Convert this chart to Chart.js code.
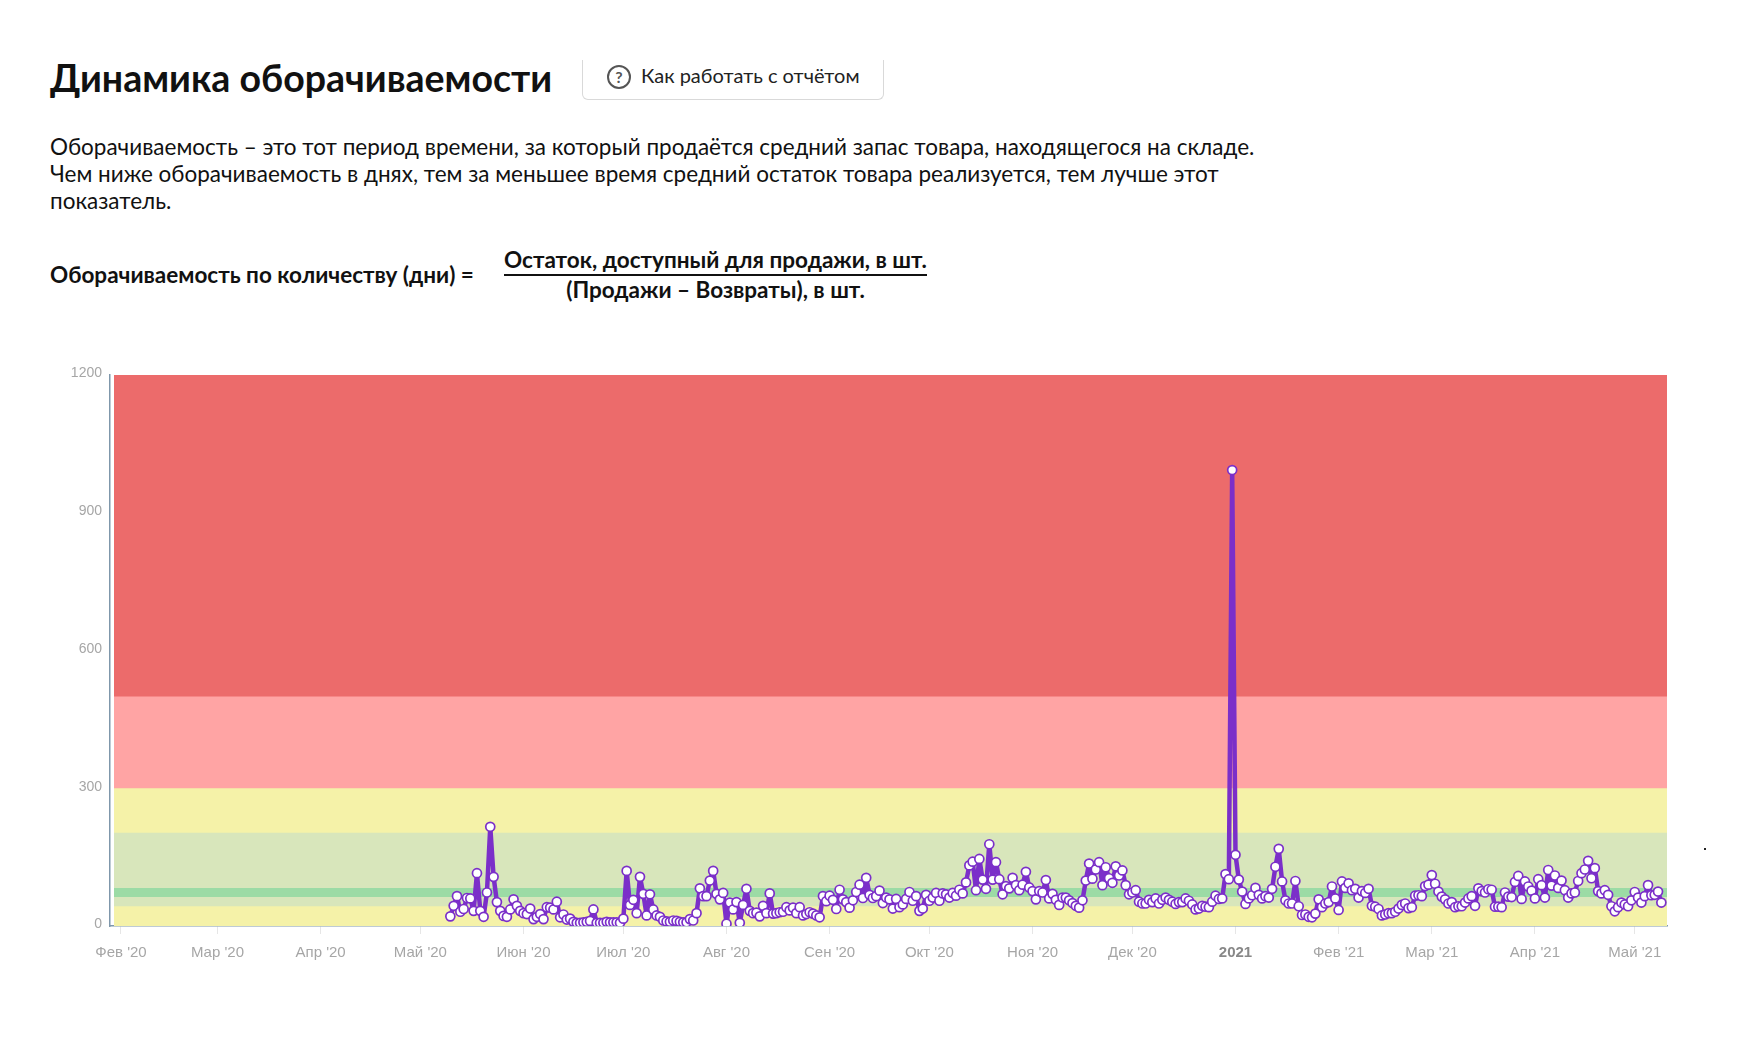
<!DOCTYPE html>
<html lang="ru">
<head>
<meta charset="utf-8">
<title>Динамика оборачиваемости</title>
<script src="https://cdn.jsdelivr.net/npm/chart.js@4"></script>
<style>
    html, body { margin: 0; padding: 0; background: #fff; }
    body { width: 1750px; height: 1050px; position: relative; overflow: hidden; font-family: Lato, "Open Sans", sans-serif; color: #111; }
    .abs { position: absolute; white-space: nowrap; }
    h1 { margin: 0; left: 50px; top: 53px; font-size: 37.5px; line-height: 50px; font-weight: 700; }
    .btn { left: 582px; top: 60px; width: 302px; height: 40px; box-sizing: border-box; border: 1px solid #d9d9d9; border-top: 0; border-radius: 0 0 6px 6px; font-size: 20px; line-height: 30px; color: #222; }
    .btn span { position: absolute; left: 58px; top: 0; }
    .btn i { position: absolute; left: 24px; top: 5px; width: 20px; height: 20px; border: 2.5px solid #555; border-radius: 50%; font-style: normal; font-weight: 700; font-size: 16px; line-height: 20px; text-align: center; color: #555; }
    .text { left: 50px; top: 133px; font-size: 22.5px; line-height: 27px; }
    .formula { font-size: 22.5px; line-height: 28px; font-weight: 700; }
    .frac { left: 504px; width: 423px; text-align: center; }
    canvas { position: absolute; left: 0; top: 340px; }
</style>
</head>
<body>
<h1 class="abs">Динамика оборачиваемости</h1>
<div class="abs btn"><i>?</i><span>Как работать с отчётом</span></div>
<div class="abs text">Оборачиваемость – это тот период времени, за который продаётся средний запас товара, находящегося на складе.<br>Чем ниже оборачиваемость в днях, тем за меньшее время средний остаток товара реализуется, тем лучше этот<br>показатель.</div>
<div class="abs formula" style="left:50px;top:261px">Оборачиваемость по количеству (дни) =</div>
<div class="abs formula frac" style="top:246px">Остаток, доступный для продажи, в шт.</div>
<div class="abs" style="left:504px;top:274px;width:423px;height:2px;background:#111"></div>
<div class="abs formula frac" style="top:276px">(Продажи – Возвраты), в шт.</div>
<div class="abs" style="left:1704px;top:848px;width:2px;height:2px;background:#222"></div>
<canvas id="turnoverChart" width="1750" height="660"></canvas>
<script>
// month ticks: days counted from 1 Feb 2020
const monthDays = [0, 29, 60, 90, 121, 151, 182, 213, 243, 274, 304, 335, 366, 394, 425, 455];
const monthLabels = ["Фев '20", "Мар '20", "Апр '20", "Май '20", "Июн '20", "Июл '20", "Авг '20", "Сен '20", "Окт '20", "Ноя '20", "Дек '20", "2021", "Фев '21", "Мар '21", "Апр '21", "Май '21"];
const yearDay = 335;

const yTicks = [0, 300, 600, 900, 1200];

// first point is 10 May 2020, one value per day
const firstDay = 99;
const turnover = [
    21, 44, 65, 31, 37, 61, 60, 33, 115, 33, 20, 73, 216, 107, 52, 33, 22, 20, 36, 58,
    44, 33, 28, 26, 38, 15, 20, 26, 15, 41, 40, 36, 53, 19, 25, 14, 16, 9, 7, 7,
    8, 9, 11, 36, 7, 7, 7, 9, 8, 8, 8, 7, 16, 120, 46, 57, 28, 107, 70, 23,
    69, 36, 23, 20, 12, 10, 9, 12, 11, 9, 8, 8, 15, 12, 28, 82, 65, 65, 99, 120,
    70, 58, 72, 5,
    51, 36, 52, 7, 46, 81, 33, 28, 29, 21, 44, 28, 71, 27, 28, 30, 31, 41, 34, 40,
    28, 41, 23, 26, 30, 27, 23, 19, 65, 54, 66, 57, 37, 79, 58, 52, 40, 56, 74, 90,
    61, 105, 68, 61, 65, 77, 50, 62, 58, 38, 59, 41, 47, 59, 74, 55, 65, 33, 38, 68,
    55, 62, 72, 55, 71, 69, 62, 72, 66, 79, 71, 95, 132, 140, 78, 146, 101, 81, 178, 101,
    139, 102, 69, 87, 82, 105, 89,
    78, 90, 118, 84, 76, 58, 76, 73, 100, 60, 70, 57, 46, 62, 62, 56, 50, 44, 40, 56,
    99, 136, 103, 123, 139, 89, 128, 104, 94, 130, 110, 121, 89, 69, 73, 78, 53, 49, 49, 57,
    52, 60, 49, 57, 62, 57, 53, 48, 52, 52, 60, 55, 47, 36, 38, 44, 42, 41, 53, 66,
    59, 60, 113, 102, 993, 155, 101, 75, 48, 60, 67, 83, 68, 60, 65, 62, 81, 129, 168, 97,
    56, 49, 49, 98, 43, 24, 25, 20,
    19, 27, 58, 41, 49, 52, 86, 60, 35, 97, 83, 93, 78, 81, 62, 76, 72, 81, 44, 42,
    37, 23, 25, 28, 28, 31, 38, 46, 49, 39, 41, 66, 67, 65, 87, 90, 111, 92, 75, 64,
    58, 49, 52, 41, 43, 43, 51, 60, 65, 44, 82, 76, 73, 80, 79, 42, 42, 41, 73, 64,
    63, 96, 109, 59, 97, 86, 77, 60, 102, 89, 62, 122, 88, 110, 83, 99, 78, 62, 71, 73,
    98, 115, 123, 142, 104, 126, 76, 71, 78, 68, 43, 32, 41, 51, 47, 43, 56, 74, 62, 51,
    65, 89, 67, 68, 75, 51
];

// horizontal zones behind the line, upper limit of each
const bandTops = [43, 63, 83, 203, 300, 500, 1200];
const bandColors = ["#f5f2a8", "#d8e6bb", "#9cdba5", "#d8e6bb", "#f5f2a8", "#ffa4a4", "#ec6b6b"];
const bandStart = -2.1;
const bandEnd = 464.7;

const bandSets = bandTops.map(function (top, i) {
    return {
        data: [{ x: bandStart, y: top }, { x: bandEnd, y: top }],
        backgroundColor: bandColors[i],
        borderWidth: 0,
        pointRadius: 0,
        fill: "origin",
        order: i + 1
    };
});

const canvas = document.getElementById("turnoverChart");
const ctx = canvas.getContext("2d");

new Chart(ctx, {
    type: "line",
    data: {
        datasets: [{
            label: "Оборачиваемость",
            data: turnover.map(function (v, i) { return { x: firstDay + i, y: v }; }),
            borderColor: "#7b2fc9",
            borderWidth: 4.5,
            borderJoinStyle: "round",
            tension: 0,
            pointRadius: 4.5,
            pointBorderWidth: 1.7,
            pointBackgroundColor: "#fff",
            pointBorderColor: "#7b2fc9",
            fill: false,
            order: 0
        }].concat(bandSets)
    },
    options: {
        responsive: false,
        animation: false,
        layout: { padding: { left: 0, top: 35, right: 83, bottom: 34 } },
        plugins: { legend: { display: false }, tooltip: { enabled: false } },
        scales: {
            x: {
                type: "linear",
                min: -3.3,
                max: 464.7,
                afterFit: function (scale) { scale.height = 40; },
                afterBuildTicks: function (scale) {
                    scale.ticks = monthDays.map(function (d) { return { value: d }; });
                },
                border: { color: "#7f97ab", width: 1.5 },
                grid: { drawOnChartArea: false, drawTicks: true, tickLength: 8, tickColor: "#e6e6e6", color: "#e6e6e6" },
                ticks: {
                    autoSkip: false,
                    maxRotation: 0,
                    padding: 10,
                    color: function (c) { return c.tick && c.tick.value === yearDay ? "#888" : "#a6a6a6"; },
                    font: function (c) {
                        const bold = c.tick && c.tick.value === yearDay;
                        return { family: "Liberation Sans", size: 15, weight: bold ? "bold" : "normal" };
                    },
                    callback: function (value, i) { return monthLabels[i]; }
                }
            },
            y: {
                min: 0,
                max: 1200,
                afterFit: function (scale) { scale.width = 110; },
                afterBuildTicks: function (scale) {
                    scale.ticks = yTicks.map(function (v) { return { value: v }; });
                },
                border: { color: "#7f97ab", width: 1.5 },
                grid: { display: false, drawTicks: false },
                ticks: {
                    padding: 8,
                    labelOffset: -1.5,
                    color: "#a6a6a6",
                    font: { family: "Liberation Sans", size: 14 },
                    callback: function (value) { return String(value); }
                }
            }
        }
    }
});
</script>
</body>
</html>
